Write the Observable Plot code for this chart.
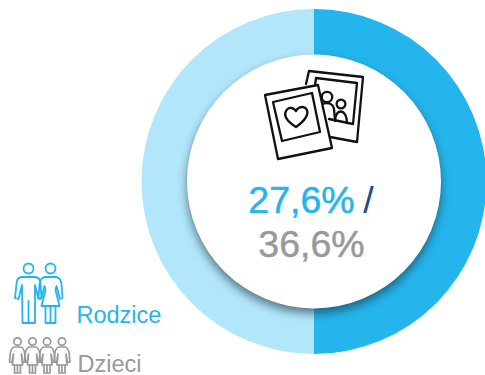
<!DOCTYPE html>
<html><head><meta charset="utf-8">
<script src="https://cdn.jsdelivr.net/npm/d3@7"></script>
<script src="https://cdn.jsdelivr.net/npm/@observablehq/plot@0.6"></script>
<style>
html,body{margin:0;padding:0;background:#fff;overflow:hidden}
svg{display:block}
.disc{filter:drop-shadow(0 5px 5px rgba(30,50,60,.62))}
</style></head><body><div id="chart"></div>
<script>
const groups = ["Rodzice", "Dzieci"];
const shares = [50, 50];
const headline = ["27,6%", "/", "36,6%"];
const colors = ["#23B5EC", "#B1E6FB"];
const ink = {blue:"#25B5EC", gray:"#999999", slash:"#134F8C", icon:"#111111"};
const W = 485, H = 375, cx = 313.5, cy = 181, ROuter = 172.5, RInner = 127;
const font = "Liberation Sans, Arial, sans-serif";

const pie = d3.pie().sort(null)(shares);
const slice = (p) => ({draw(ctx, size){
  const r = Math.sqrt(size / Math.PI);
  d3.arc().context(ctx)({innerRadius:0, outerRadius:r, startAngle:p.startAngle, endAngle:p.endAngle});
}});

const paths = (list, stroke, width) => () => {
  const g = d3.create("svg:g").attr("fill","none").attr("stroke",stroke).attr("stroke-width",width)
    .attr("stroke-linejoin","round").attr("stroke-linecap","round");
  for (const d of list) {
    const el = g.append("path").attr("d", d.d || d);
    if (d.fill) el.attr("fill", d.fill);
  }
  return g.node();
};
const circ = (x,y,r)=>`M${x-r},${y}a${r},${r} 0 1,0 ${2*r},0a${r},${r} 0 1,0 ${-2*r},0`;

const photoIcon = [
  "M330,137L357,142L363,77L309,71L306,84",
  "M329,119L353,124L357,83L316,78L315,86",
  circ(327,97,5.2), circ(341,104,4.4),
  "M322,104C327,102 333,103 334,109L335,120",
  "M335,121C335,108 347,108 347,123",
  {d:"M265,95L318,85L332,148L278,159Z", fill:"#fff"},
  "M273,102L312,93L320,132L282,141Z",
  "M296,127C288,122 283,117 286,111C289,106 294,108 296,111C298,107 304,105 307,110C309,116 303,122 296,127Z"
];
const man = (x)=>[circ(x,268.5,5),
  `M${x-6},277C${x-10},277 ${x-12},280 ${x-12},284L${x-13.5},298L${x-10},299L${x-6.5},285L${x-6},323L${x},323L${x},301L${x},323L${x+6.5},323L${x+6.5},285L${x+10},299L${x+13},298L${x+12},284C${x+12},280 ${x+10},277 ${x+6},277Z`];
const woman = (x)=>[circ(x,268.5,5),
  `M${x-5},277C${x-9},277 ${x-10},280 ${x-11},284L${x-12},298L${x-9.5},299L${x-6},286L${x-5},290L${x-9},306L${x+9},306L${x+5},290L${x+6},286L${x+9.5},299L${x+12},298L${x+11},284C${x+10},280 ${x+9},277 ${x+5},277Z`,
  `M${x-5},306L${x-5},323L${x+5},323L${x+5},306M${x},306L${x},323`];
const kid = (x)=>[circ(x,341.5,3.7),
  `M${x-3},347L${x+3},347C${x+5},347 ${x+6},349 ${x+7},352L${x+8},362L${x+5.5},362.5L${x+4},354L${x+5},365L${x-5},365L${x-4},354L${x-5.5},362.5L${x-8},362L${x-7},352C${x-6},349 ${x-5},347 ${x-3},347Z`,
  `M${x-3},365L${x-3},373L${x+3},373L${x+3},365M${x},365L${x},373`];

const big = {fontSize:37.5, textAnchor:"middle", fontFamily:font, lineAnchor:"bottom", text:d=>d};
const small = {fontSize:23.5, textAnchor:"start", fontFamily:font, lineAnchor:"bottom", text:d=>d};
const chart = Plot.plot({
  width:W, height:H, margin:0,
  x:{domain:[0,W], range:[0,W], axis:null},
  y:{domain:[0,H], range:[0,H], axis:null},
  marks:[
    ...pie.map((p,i)=>Plot.dot([groups[i]], {x:()=>cx, y:()=>cy, r:ROuter, symbol:slice(p), fill:colors[i]})),
    Plot.dot(["disc"], {x:()=>cx, y:()=>cy, r:RInner, fill:"#fff", className:"disc"}),
    paths(photoIcon, ink.icon, 2.3),
    Plot.text([headline[0]], {...big, x:()=>301, y:()=>212, fill:ink.blue, stroke:ink.blue, strokeWidth:.5}),
    Plot.text([headline[1]], {...big, x:()=>368, y:()=>212, fill:ink.slash}),
    Plot.text([headline[2]], {...big, x:()=>311, y:()=>256, fill:ink.gray, stroke:ink.gray, strokeWidth:.5}),
    paths([...man(28.5), ...woman(50.5)], ink.blue, 1.8),
    paths([...kid(17.5), ...kid(32.5), ...kid(47), ...kid(62)], ink.gray, 1.7),
    Plot.text([groups[0]], {...small, x:()=>76, y:()=>322, fill:ink.blue}),
    Plot.text([groups[1]], {...small, x:()=>77, y:()=>371, fill:ink.gray})
  ]
});
document.getElementById("chart").append(chart);
</script></body></html>
